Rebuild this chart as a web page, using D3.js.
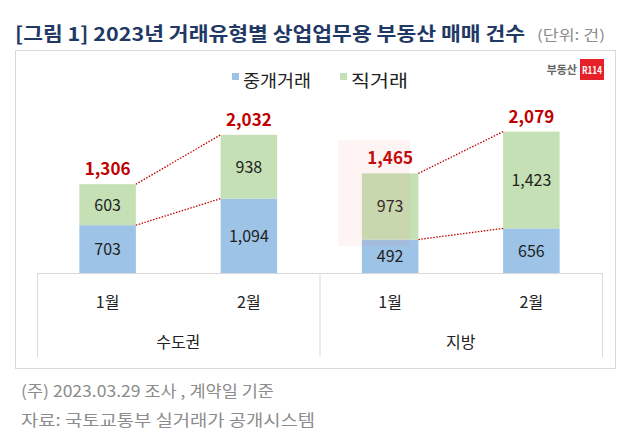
<!DOCTYPE html>
<html><head><meta charset="utf-8">
<script src="https://cdn.jsdelivr.net/npm/d3@7/dist/d3.min.js"></script>
<style>body{margin:0;background:#fff}svg{display:block}text{font-family:"Noto Sans CJK KR","Noto Sans",sans-serif}</style>
</head><body>
<svg id="c" width="626" height="442"></svg>
<script>
const months = ["1월", "2월", "1월", "2월"];
const groups = ["수도권", "수도권", "지방", "지방"];
const regions = ["수도권", "지방"];
const seriesNames = ["중개거래", "직거래"];
const brokered = [703, 1094, 492, 656];
const direct = [603, 938, 973, 1423];
const totals = [1306, 2032, 1465, 2079];
const yDomain = [0, 3000];

const svg = d3.select("#c");
const fmt = d3.format(",");
const cBlue = "#9dc3e6", cGreen = "#c5e0b4", cRed = "#c00000", cGrid = "#d9d9d9";

// title
svg.append("text").attr("x", 15).attr("y", 41).attr("font-size", 19).attr("font-weight", 700)
  .attr("fill", "#1f3864").attr("textLength", 510).attr("lengthAdjust", "spacingAndGlyphs")
  .text("[그림 1] 2023년 거래유형별 상업업무용 부동산 매매 건수");
svg.append("text").attr("x", 537).attr("y", 40).attr("font-size", 14).attr("fill", "#8c8c8c")
  .attr("textLength", 68).attr("lengthAdjust", "spacingAndGlyphs").text("(단위: 건)");

// frame
svg.append("rect").attr("x", 15.5).attr("y", 50.5).attr("width", 600).attr("height", 318)
  .attr("fill", "#fff").attr("stroke", cGrid);

// logo
svg.append("text").attr("x", 577).attr("y", 74).attr("text-anchor", "end").attr("font-size", 11)
  .attr("font-weight", 700).attr("fill", "#666").text("부동산");
svg.append("rect").attr("x", 580).attr("y", 59).attr("width", 24).attr("height", 21).attr("fill", "#e8202a");
svg.append("text").attr("x", 582).attr("y", 74).attr("font-size", 10)
  .attr("font-weight", 700).attr("fill", "#fff").attr("textLength", 20).attr("lengthAdjust", "spacingAndGlyphs").text("R114");

// legend
const legendX = [232, 340];
const legendW = [68, 57];
seriesNames.forEach((n, i) => {
  svg.append("rect").attr("x", legendX[i]).attr("y", 73).attr("width", 7).attr("height", 7)
    .attr("fill", i === 0 ? cBlue : cGreen);
  svg.append("text").attr("x", legendX[i] + 11).attr("y", 87).attr("font-size", 17)
    .attr("fill", "#222").attr("textLength", legendW[i]).attr("lengthAdjust", "spacingAndGlyphs").text(n);
});

const x = d3.scaleBand().domain(d3.range(months.length)).range([37, 602]).paddingInner(0.6).paddingOuter(0.3);
const y = d3.scaleLinear().domain(yDomain).range([273, 69]);
const bw = x.bandwidth();

const idx = d3.range(months.length);
const g = svg.append("g");
g.selectAll(".b").data(idx).join("rect").attr("x", i => x(i)).attr("width", bw)
  .attr("y", i => y(brokered[i])).attr("height", i => y(0) - y(brokered[i])).attr("fill", cBlue);
g.selectAll(".d").data(idx).join("rect").attr("x", i => x(i)).attr("width", bw)
  .attr("y", i => y(brokered[i] + direct[i])).attr("height", i => y(brokered[i]) - y(brokered[i] + direct[i])).attr("fill", cGreen);

// faint watermark block
svg.append("rect").attr("x", 338).attr("y", 140).attr("width", 72).attr("height", 106)
  .attr("fill", "#f08080").attr("opacity", 0.09);

// segment labels
g.selectAll(".bl").data(idx).join("text").attr("x", i => x(i) + bw / 2)
  .attr("y", i => (y(0) + y(brokered[i])) / 2 + 6).attr("text-anchor", "middle").attr("font-size", 16)
  .attr("fill", "#222").text(i => fmt(brokered[i]));
g.selectAll(".dl").data(idx).join("text").attr("x", i => x(i) + bw / 2)
  .attr("y", i => (y(brokered[i]) + y(brokered[i] + direct[i])) / 2 + 6).attr("text-anchor", "middle").attr("font-size", 16)
  .attr("fill", "#222").text(i => fmt(direct[i]));
g.selectAll(".tl").data(idx).join("text").attr("x", i => x(i) + bw / 2)
  .attr("y", i => y(totals[i]) - 9).attr("text-anchor", "middle").attr("font-size", 17)
  .attr("font-weight", 700).attr("fill", cRed).text(i => fmt(totals[i]));

// connectors
[[0, 1], [2, 3]].forEach(([a, b]) => {
  [totals, brokered].forEach(arr => {
    svg.append("line").attr("x1", x(a) + bw).attr("y1", y(arr[a])).attr("x2", x(b)).attr("y2", y(arr[b]))
      .attr("stroke", cRed).attr("stroke-width", 1.3).attr("stroke-dasharray", "1.5,1.5");
  });
});

// axis
const r0 = x.range()[0], r1 = x.range()[1], mid = (r0 + r1) / 2;
svg.append("line").attr("x1", r0).attr("x2", r1).attr("y1", y(0) + 0.5).attr("y2", y(0) + 0.5).attr("stroke", cGrid);
[r0, mid, r1].forEach(v => svg.append("line").attr("x1", v + 0.5).attr("x2", v + 0.5)
  .attr("y1", y(0)).attr("y2", 357).attr("stroke", cGrid));
svg.selectAll(".ml").data(idx).join("text").attr("x", i => x(i) + bw / 2).attr("y", 308)
  .attr("text-anchor", "middle").attr("font-size", 16).attr("fill", "#222").text(i => months[i]);
svg.selectAll(".rl").data(regions).join("text").attr("x", (d, i) => i === 0 ? (r0 + mid) / 2 : (mid + r1) / 2)
  .attr("y", 348).attr("text-anchor", "middle").attr("font-size", 16).attr("fill", "#222").text(d => d);

// notes
svg.append("text").attr("x", 21).attr("y", 397).attr("font-size", 16).attr("fill", "#8c8c8c")
  .attr("textLength", 253).attr("lengthAdjust", "spacingAndGlyphs")
  .text("(주) 2023.03.29 조사 , 계약일 기준");
svg.append("text").attr("x", 21).attr("y", 426).attr("font-size", 16).attr("fill", "#8c8c8c")
  .attr("textLength", 294).attr("lengthAdjust", "spacingAndGlyphs")
  .text("자료: 국토교통부 실거래가 공개시스템");
</script>
</body></html>
